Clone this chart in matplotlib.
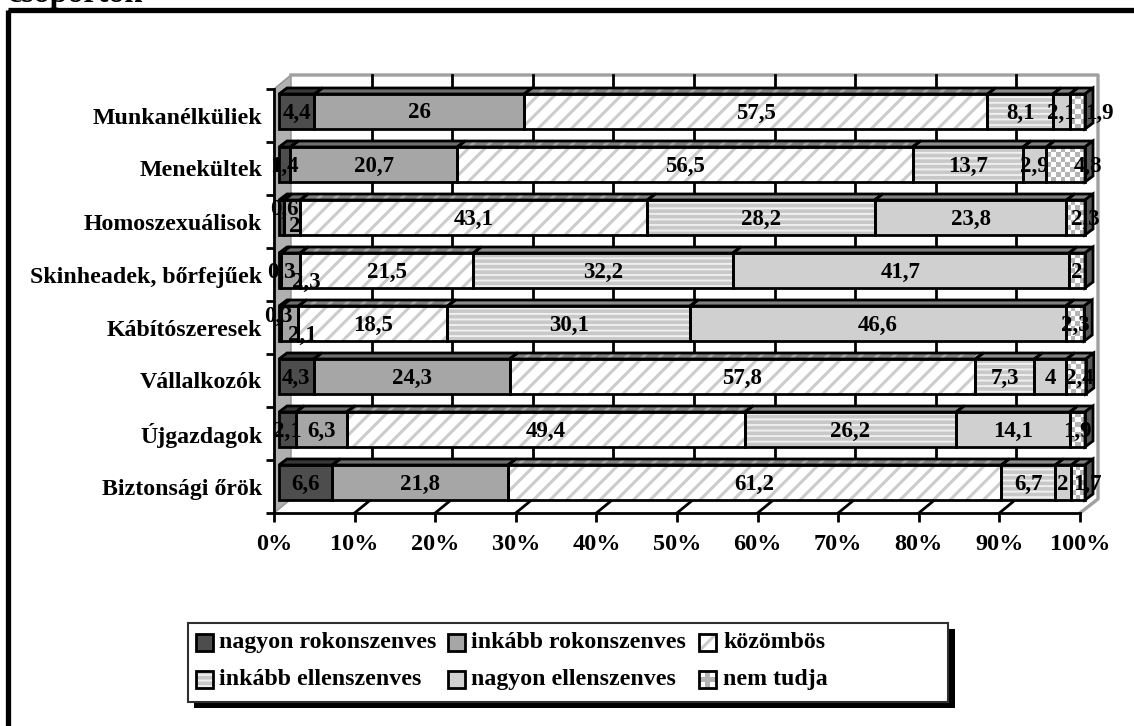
import numpy as np
import matplotlib
matplotlib.use('Agg')
import matplotlib.pyplot as plt
from matplotlib.colors import ListedColormap
from matplotlib.patches import Rectangle, Polygon

categories = ['Munkanélküliek', 'Menekültek', 'Homoszexuálisok', 'Skinheadek, bőrfejűek',
              'Kábítószeresek', 'Vállalkozók', 'Újgazdagok', 'Biztonsági őrök']
series_names = ['nagyon rokonszenves', 'inkább rokonszenves', 'közömbös',
                'inkább ellenszenves', 'nagyon ellenszenves', 'nem tudja']
nagyon_rok = [4.4, 1.4, 0.6, 0.3, 0.3, 4.3, 2.1, 6.6]
inkabb_rok = [26, 20.7, 2, 2.3, 2.1, 24.3, 6.3, 21.8]
kozombos = [57.5, 56.5, 43.1, 21.5, 18.5, 57.8, 49.4, 61.2]
inkabb_ell = [8.1, 13.7, 28.2, 32.2, 30.1, 7.3, 26.2, 6.7]
nagyon_ell = [2.1, 2.9, 23.8, 41.7, 46.6, 4, 14.1, 2]
nem_tudja = [1.9, 4.8, 2.3, 2, 2.3, 2.4, 1.9, 1.7]
x_ticks = [0, 10, 20, 30, 40, 50, 60, 70, 80, 90, 100]

W, H = 1134, 726
plt.rcParams['font.family'] = ['Liberation Serif', 'DejaVu Serif']
plt.rcParams['font.weight'] = 'bold'
plt.rcParams['hatch.linewidth'] = 2.2

fig = plt.figure(figsize=(W / 100, H / 100), dpi=100, facecolor='white')

# pixel overlay: frame, walls of the fake 3D box, legend
bg = fig.add_axes([0, 0, 1, 1], zorder=0)
bg.set_xlim(0, W)
bg.set_ylim(H, 0)
bg.axis('off')

fig.text(8 / W, 1 - 2 / H, 'csoportok', fontsize=23, ha='left', va='baseline')
bg.add_patch(Rectangle((7.5, 9.5), W, H, fc='none', ec='black', lw=3.8, zorder=5))

x0, x1, y0, y1 = 274, 1080, 89, 513   # front plane of the axes
wx, wy = 17, 14                      # wall depth
bg.add_patch(Polygon([(x0, y0), (x0 + wx, y0 - wy), (x0 + wx, y1 - wy), (x0, y1)],
                     fc='#b0b0b0', ec='#909090', lw=1))
bg.plot([x0 + wx, x1 + wx + 1, x1 + wx + 1, x1], [y0 - wy, y0 - wy, y1 - wy, y1], color='#a0a0a0', lw=2.4)
bg.plot([x0, x0 + wx], [y1, y1 - wy], color='#a0a0a0', lw=1)
for t in x_ticks[1:-1]:
    px = x0 + (x1 - x0) * t / 100
    bg.plot([px + wx, px + wx], [y0 - wy, y1 - wy], color='black', lw=2)
    bg.plot([px, px + wx], [y1, y1 - wy], color='black', lw=2)

# main axes sit on the front plane
ax = fig.add_axes([x0 / W, 1 - y1 / H, (x1 - x0) / W, (y1 - y0) / H], zorder=1)
ax.patch.set_alpha(0)

off_x = 5 / 8.06           # bars start a bit inside the front plane
off_y = 4 / 53
bar_h = 35 / 53
dx = 8 / 8.06              # bar depth
dy = 6 / 53
edge = 2.0

values = np.array([nagyon_rok, inkabb_rok, kozombos, inkabb_ell, nagyon_ell, nem_tudja])
face = ['#4d4d4d', '#a6a6a6', 'white', '#c8c8c8', '#d0d0d0', 'white']
top = ['#383838', '#6e6e6e', '#808080', '#8c8c8c', '#808080', '#808080']
hatch = [None, None, '//', '---', None, None]
hatch_col = ['none', 'none', '#cccccc', '#f0f0f0', 'none', 'none']
top_hatch_col = ['none', 'none', '#a8a8a8', 'none', 'none', 'none']
checker_cmap = ListedColormap(['white', '#b4b4b4'])

# label nudges in pixels, the small segments overlap in the original
nudge = {(0, 5): (22, 0), (1, 5): (22, 0), (2, 0): (3, -10), (2, 1): (3, 8), (2, 5): (10, 0),
         (3, 0): (1, 0), (3, 1): (16, 10), (4, 0): (-2, -9), (4, 1): (12, 10),
         (7, 5): (9, 0), (5, 5): (3, 0)}

lefts = np.cumsum(np.vstack([np.zeros(8), values[:-1]]), axis=0)
for s in range(6):
    ys = np.arange(8) + 0.5 - off_y
    lf = lefts[s] + off_x
    plt.rcParams['hatch.linewidth'] = 1.4 if s == 3 else 2.2
    bars = ax.barh(ys, values[s], left=lf, height=bar_h, color=face[s],
                   edgecolor=hatch_col[s], linewidth=0, hatch=hatch[s], zorder=3)
    for b in bars:
        b.set_clip_on(False)
    for i in range(8):
        l, r = lf[i], lf[i] + values[s][i]
        if s == 5:
            nx = max(1, int(round((r - l) * 8.06 / 5)))
            ny = 7
            grid = np.indices((ny, nx)).sum(axis=0) % 2
            ax.imshow(grid, extent=(l, r, ys[i] + bar_h / 2, ys[i] - bar_h / 2), cmap=checker_cmap,
                      aspect='auto', interpolation='nearest', zorder=3.1, clip_on=False)
        ax.add_patch(Rectangle((l, ys[i] - bar_h / 2), r - l, bar_h, fc='none', ec='black', lw=edge,
                               zorder=4, clip_on=False))
        t = ys[i] - bar_h / 2
        pts = [(l, t), (r, t), (r + dx, t - dy), (l + dx, t - dy)]
        ax.add_patch(Polygon(pts, fc=top[s], ec=top_hatch_col[s], lw=0,
                             hatch='//' if s == 2 else None, zorder=3.4, clip_on=False))
        ax.add_patch(Polygon(pts, fc='none', ec='black', lw=edge, zorder=3.5, clip_on=False))
        if s == 5:
            b = ys[i] + bar_h / 2
            ax.add_patch(Polygon([(r, t), (r + dx, t - dy), (r + dx, b - dy), (r, b)],
                                 fc='#585858', ec='black', lw=edge, zorder=3.5, clip_on=False))
        nx_px, ny_px = nudge.get((i, s), (0, 0))
        ax.text((l + r) / 2 + nx_px / 8.06, ys[i] + (ny_px + 1.5) / 53, f'{values[s][i]:g}'.replace('.', ','),
                ha='center', va='center', fontsize=16.5, zorder=6, clip_on=False)

ax.set_xlim(0, 100)
ax.set_ylim(8, 0)
ax.set_xticks(x_ticks)
ax.set_xticklabels([f'{t}%' for t in x_ticks], fontsize=17.5)
ax.set_yticks(np.arange(8) + 0.5)
ax.set_yticklabels(categories, fontsize=17.2)
ax.set_yticks(np.arange(9), minor=True)
ax.tick_params(axis='y', which='major', length=0, pad=8.5)
ax.tick_params(axis='y', which='minor', length=6, width=2)
ax.tick_params(axis='x', length=6.5, width=2, pad=8.5)
for sp in ['top', 'right']:
    ax.spines[sp].set_visible(False)
for sp in ['left', 'bottom']:
    ax.spines[sp].set_linewidth(2)

# legend, laid out by hand to keep the empty space on the right of the box
lg = fig.add_axes([0, 0, 1, 1], zorder=2)
lg.set_xlim(0, W)
lg.set_ylim(H, 0)
lg.axis('off')
lg.add_patch(Rectangle((194, 629), 761, 79, fc='black', ec='none'))
lg.add_patch(Rectangle((188, 623), 760, 79, fc='white', ec='#303030', lw=1.5))
col_x = [196, 448, 699]
text_x = [219, 471, 723]
row_y = [642.5, 679.5]
for s, name in enumerate(series_names):
    cx, cy = col_x[s % 3], row_y[s // 3]
    if s == 5:
        lg.imshow(np.array([[0, 1, 0], [1, 1, 1], [0, 1, 0]]), extent=(cx, cx + 17, cy + 8.5, cy - 8.5),
                  cmap=checker_cmap, aspect='auto', interpolation='nearest', zorder=3)
    else:
        plt.rcParams['hatch.linewidth'] = 1.4 if s == 3 else 2.2
        lg.add_patch(Rectangle((cx, cy - 8.5), 17, 17, fc=face[s], ec=hatch_col[s], lw=0,
                               hatch=hatch[s], zorder=3))
    lg.add_patch(Rectangle((cx, cy - 8.5), 17, 17, fc='none', ec='black', lw=2, zorder=4))
    lg.text(text_x[s % 3], cy, name, ha='left', va='center', fontsize=17.2, zorder=5)
lg.set_xlim(0, W)
lg.set_ylim(H, 0)

fig.savefig('out.png', dpi=100, facecolor='white')
